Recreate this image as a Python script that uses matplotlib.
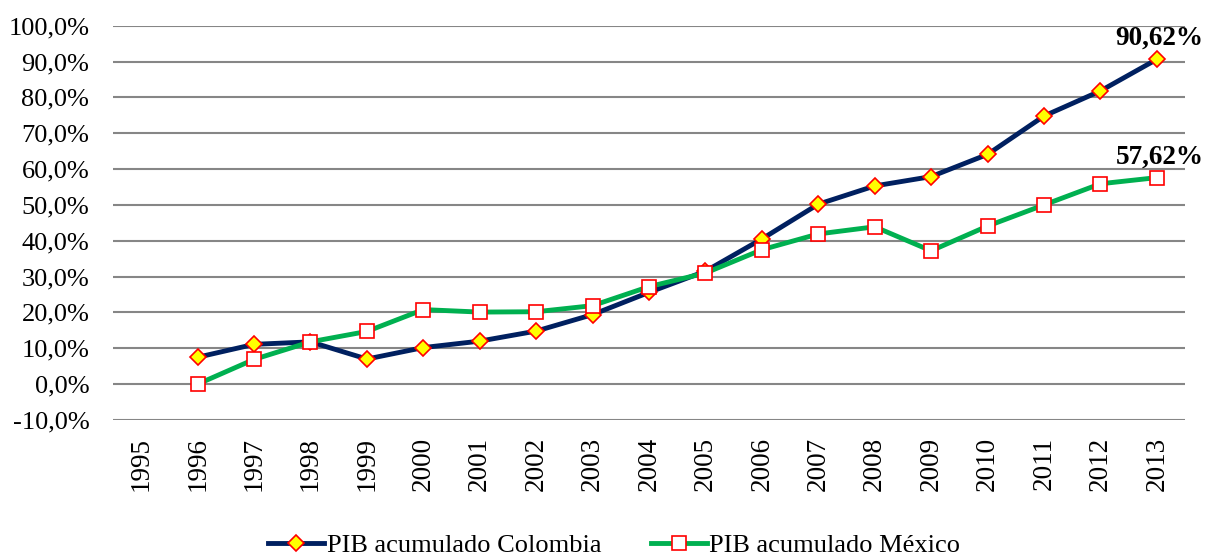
import matplotlib.pyplot as plt
from matplotlib.ticker import FuncFormatter

# datos
anios = [str(a) for a in range(1995, 2014)]
pib_colombia = [None, 7.5, 11.1, 11.8, 7.0, 10.2, 12.0, 14.8, 19.4, 25.6, 31.5,
                40.5, 50.2, 55.3, 57.9, 64.1, 74.8, 81.8, 90.62]
pib_mexico = [None, 0.0, 6.9, 11.8, 14.7, 20.8, 20.1, 20.2, 21.9, 27.2, 31.0,
              37.5, 41.9, 43.9, 37.2, 44.1, 50.0, 55.9, 57.62]
etiqueta_colombia = "90,62%"
etiqueta_mexico = "57,62%"

plt.rcParams['font.family'] = ['Liberation Serif', 'DejaVu Serif']

fig = plt.figure(figsize=(12.07, 5.59), dpi=100)
ax = fig.add_axes([0.0936, 0.2487, 0.8882, 0.7053])

x = list(range(len(anios)))
col = [float('nan') if v is None else v for v in pib_colombia]
mex = [float('nan') if v is None else v for v in pib_mexico]

ax.plot(x, col, color='#002060', lw=3.5, marker='D', ms=8,
        mfc='#FFFF00', mec='#FF0000', mew=1.2, label='PIB acumulado Colombia', zorder=3)
ax.plot(x, mex, color='#00B050', lw=3.5, marker='s', ms=10,
        mfc='white', mec='#FF0000', mew=1.2, label='PIB acumulado México', zorder=3)

# etiquetas finales
ax.annotate(etiqueta_colombia, (x[-1], col[-1]), xytext=(2, 6), textcoords='offset points',
            ha='center', va='bottom', fontsize=19.5, fontweight='bold', annotation_clip=False)
ax.annotate(etiqueta_mexico, (x[-1], mex[-1]), xytext=(2, 6), textcoords='offset points',
            ha='center', va='bottom', fontsize=19.5, fontweight='bold', annotation_clip=False)

ax.set_xlim(-0.5, len(anios) - 0.5)
ax.set_ylim(-10, 100)
ax.set_yticks(range(-10, 101, 10))
ax.yaxis.set_major_formatter(FuncFormatter(lambda v, p: f"{v:.1f}%".replace('.', ',')))
ax.set_xticks(x)
ax.set_xticklabels(anios, rotation=90)
ax.tick_params(axis='y', length=0, labelsize=19)
ax.tick_params(axis='x', length=0, labelsize=19.5, pad=12)
ax.tick_params(axis='y', pad=17)

ax.grid(axis='y', color='#868686', lw=1.5)
ax.set_axisbelow(True)
for s in ax.spines.values():
    s.set_visible(False)

fig.legend(loc='center', bbox_to_anchor=(0.509, 0.024), ncol=2, frameon=False,
           fontsize=19, handlelength=2.1, handletextpad=0.1, columnspacing=1.9)

fig.savefig('out.png', dpi=100)
